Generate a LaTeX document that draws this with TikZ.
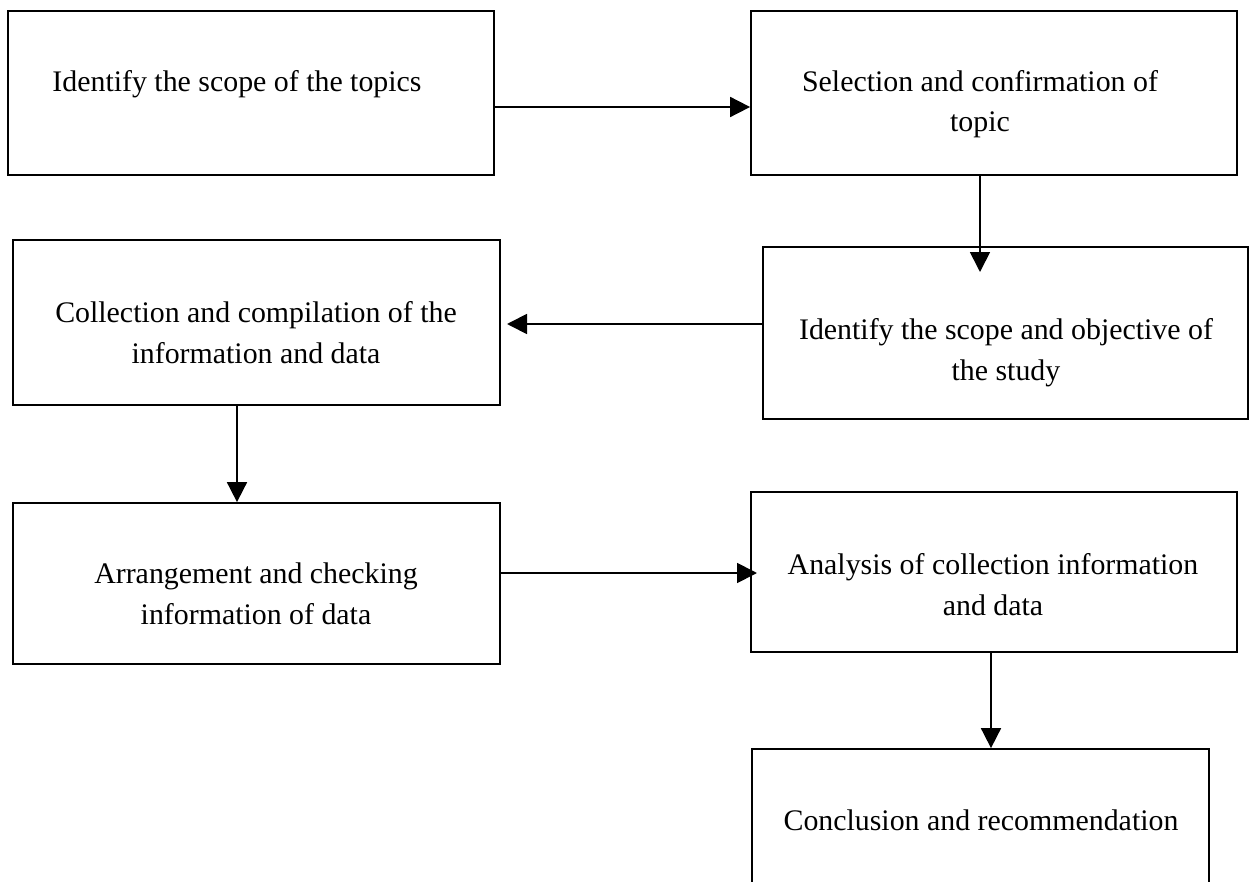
\documentclass[tikz,border=0pt]{standalone}
\usepackage{fontspec}
\setmainfont{Liberation Serif}
\usetikzlibrary{arrows.meta}

\begin{document}
\begin{tikzpicture}[x=0.02cm, y=-0.02cm,
    stepbox/.style 2 args={draw, line width=1pt, inner sep=0pt,
      minimum width=#1*0.02cm, minimum height=#2*0.02cm},
    steptext/.style={font=\fontsize{17}{22.8}\selectfont, align=center,
      anchor=base, inner sep=0pt},
    flow/.style={line width=1pt, -{Triangle[length=0.4cm, width=0.4cm]}}]
      \clip (0,0) rectangle (1255,882);

      % boxes
      \node[stepbox={486}{164}] (b1) at (251,93) {};
      \node[stepbox={486}{164}] (b2) at (994,93) {};
      \node[stepbox={485}{172}] (b3) at (1005.5,333) {};
      \node[stepbox={487}{165}] (b4) at (256.5,322.5) {};
      \node[stepbox={487}{161}] (b5) at (256.5,583.5) {};
      \node[stepbox={486}{160}] (b6) at (994,572) {};
      \node[stepbox={457}{171}] (b7) at (980.5,834.5) {};

      % texts (base = last line)
      \node[steptext] (t1) at (237,92) {Identify the scope of the topics};
      \node[steptext] (t2) at (980,132) {Selection and confirmation of\\topic};
      \node[steptext] (t3) at (1006,380) {Identify the scope and objective of\\the study};
      \node[steptext] (t4) at (256,363) {Collection and compilation of the\\information and data};
      \node[steptext] (t5) at (256,624) {Arrangement and checking\\information of data};
      \node[steptext] (t6) at (993,615) {Analysis of collection information\\and data};
      \node[steptext] (t7) at (981,830) {Conclusion and recommendation};

      % arrows
      \coordinate (a1) at (0,107);
      \coordinate (a2) at (980,272);
      \coordinate (a3) at (507,324);
      \coordinate (a4) at (237,0);
      \coordinate (a5) at (757,573);
      \coordinate (a6) at (991,0);

      \draw[flow] (b1.east |- a1) -- (b2.west |- a1);
      \draw[flow] (b2.south -| a2) -- (a2);
      \draw[flow] (b3.west |- a3) -- (a3);
      \draw[flow] (b4.south -| a4) -- (b5.north -| a4);
      \draw[flow] (b5.east |- a5) -- (a5);
      \draw[flow] (b6.south -| a6) -- (b7.north -| a6);
    \end{tikzpicture}
\end{document}
